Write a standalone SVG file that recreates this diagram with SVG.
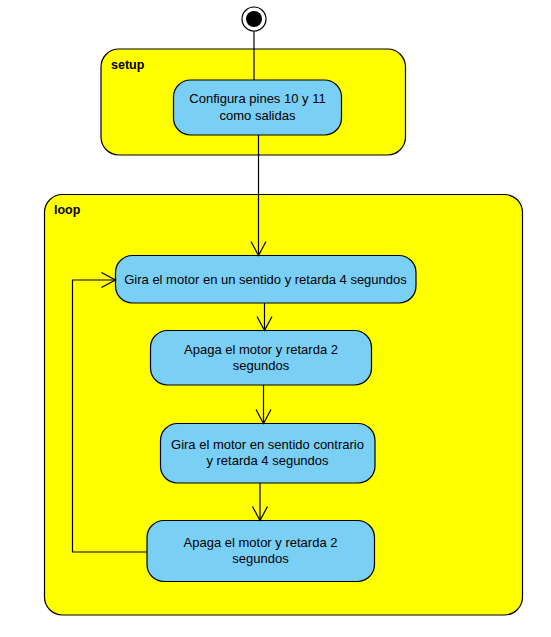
<svg xmlns="http://www.w3.org/2000/svg" width="551" height="637" viewBox="0 0 551 637">
<defs>
<style>
.cont{fill:#FFFF00;stroke:#000;stroke-width:1.2}
.act{fill:#7ACFF5;stroke:#000;stroke-width:1.2}
.t{font-family:"Liberation Sans",Arial,sans-serif;font-size:13px;fill:#000;text-anchor:middle}
.lbl{font-family:"Liberation Sans",Arial,sans-serif;font-size:12.5px;font-weight:bold;fill:#000}
.c{fill:none;stroke:#000;stroke-width:1.2}
</style>
<marker id="arr" markerWidth="16" markerHeight="18" refX="15" refY="9" orient="auto" markerUnits="userSpaceOnUse">
<path d="M1,1.5 L15,9 L1,16.5" fill="none" stroke="#000" stroke-width="1.2"/>
</marker>
</defs>
<rect width="551" height="637" fill="#fff"/>
<g id="initial">
<circle cx="254" cy="19" r="12" fill="#fff" stroke="#000" stroke-width="1.2"/>
<circle cx="254" cy="19" r="8" fill="#000"/>
</g>
<g id="setup">
<rect class="cont" x="101" y="49" width="304.5" height="106" rx="18"/>
<text class="lbl" x="111" y="69">setup</text>
</g>
<g id="loop">
<rect class="cont" x="44.5" y="194.5" width="478" height="420.5" rx="18"/>
<text class="lbl" x="54" y="214">loop</text>
</g>
<g id="a0">
<rect class="act" x="173.5" y="80" width="168" height="55" rx="17"/>
<text class="t" x="257.5" y="103">Configura pines 10 y 11</text>
<text class="t" x="257.5" y="120">como salidas</text>
</g>
<g id="a1">
<rect class="act" x="115.5" y="255.5" width="300.5" height="47.5" rx="17"/>
<text class="t" x="265.5" y="284">Gira el motor en un sentido y retarda 4 segundos</text>
</g>
<g id="a2">
<rect class="act" x="150.5" y="330.5" width="221" height="54.5" rx="17"/>
<text class="t" x="261" y="354">Apaga el motor y retarda 2</text>
<text class="t" x="261" y="370">segundos</text>
</g>
<g id="a3">
<rect class="act" x="160.5" y="423.5" width="214.5" height="59.5" rx="17"/>
<text class="t" x="267.5" y="449">Gira el motor en sentido contrario</text>
<text class="t" x="267.5" y="465">y retarda 4 segundos</text>
</g>
<g id="a4">
<rect class="act" x="147" y="520.5" width="227.5" height="61" rx="17"/>
<text class="t" x="260.5" y="547">Apaga el motor y retarda 2</text>
<text class="t" x="260.5" y="563">segundos</text>
</g>
<g id="connectors">
<line class="c" x1="254" y1="31" x2="254" y2="80"/>
<line class="c" x1="258.5" y1="135" x2="258.5" y2="255.5" marker-end="url(#arr)"/>
<line class="c" x1="264.5" y1="303" x2="264.5" y2="330.5" marker-end="url(#arr)"/>
<line class="c" x1="263.5" y1="385" x2="263.5" y2="423.5" marker-end="url(#arr)"/>
<line class="c" x1="260" y1="483" x2="260" y2="520.5" marker-end="url(#arr)"/>
<polyline class="c" points="147,552 72.5,552 72.5,280 115.5,280" marker-end="url(#arr)"/>
</g>
</svg>
